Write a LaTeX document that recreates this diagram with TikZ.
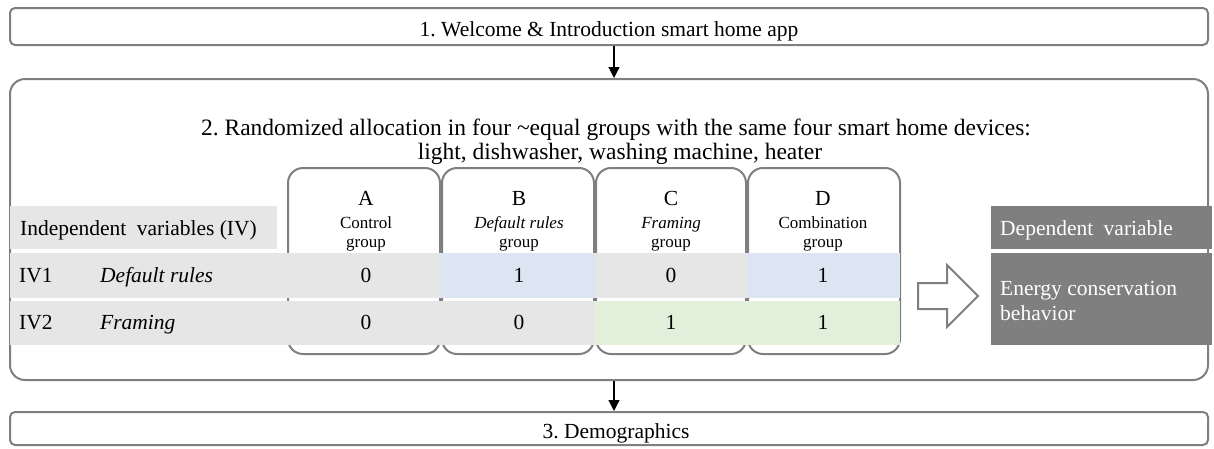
\documentclass[tikz,border=0pt]{standalone}
\usepackage{fontspec}
\setmainfont{Liberation Serif}
\usetikzlibrary{arrows.meta}
\definecolor{edge}{HTML}{7F7F7F}
\definecolor{cellgray}{HTML}{E6E6E6}
\definecolor{cellblue}{HTML}{DCE6F2}
\definecolor{cellgreen}{HTML}{E2EFDA}
\definecolor{darkbox}{HTML}{7F7F7F}
\newcommand{\mainsize}{\fontsize{21.5}{24}\selectfont}
\newcommand{\titlesize}{\fontsize{23.5}{26}\selectfont}
\newcommand{\smallsize}{\fontsize{17}{19}\selectfont}
\frenchspacing

\begin{document}
\begin{tikzpicture}[x=1pt,y=-1pt,
  stagebox/.style={draw=edge, line width=2pt, rounded corners=5pt,
    inner sep=0pt, minimum width=1198pt},
  groupbox/.style={draw=edge, line width=2pt, rounded corners=15pt,
    inner sep=0pt, minimum height=186pt},
  txt/.style={inner sep=0pt, font=\mainsize},
  smalltxt/.style={inner sep=0pt, font=\smallsize},
  flow/.style={line width=1.2pt, -{Triangle[width=11pt,length=11pt]}},
]
\useasboundingbox (0,0) rectangle (1214,448);

% stages of the study
\node[stagebox, minimum height=37pt] (s1) at (609,26.5) {};
\node[stagebox, minimum height=301pt, rounded corners=15pt] (s2) at (609,229.5) {};
\node[stagebox, minimum height=33pt] (s3) at (609,428.5) {};

\node[txt, anchor=base] (t1) at (609,36) {1. Welcome \& Introduction smart home app};
\node[txt, font=\titlesize, anchor=base] (t2a) at (616,135) {2. Randomized allocation in four \textasciitilde equal groups with the same four smart home devices:};
\node[txt, font=\titlesize, anchor=base] (t2b) at (620,159) {light, dishwasher, washing machine, heater};
\node[txt, anchor=base] (t3) at (616,438) {3. Demographics};

\coordinate (ax) at (614,0);
\draw[flow] (s1.south -| ax) -- (s2.north -| ax);
\draw[flow] (s2.south -| ax) -- (s3.north -| ax);

% experimental groups
\node[groupbox, minimum width=152pt] (gA) at (364,261) {};
\node[groupbox, minimum width=152pt] (gB) at (518,261) {};
\node[groupbox, minimum width=150pt] (gC) at (671,261) {};
\node[groupbox, minimum width=152pt] (gD) at (824,261) {};

\foreach \g/\x/\l/\a/\b in {A/366/A/Control/group, B/519/B/\textit{Default rules}/group,
    C/671/C/\textit{Framing}/group, D/823/D/Combination/group}{
  \node[txt, anchor=base] (l\g) at (\x,205) {\l};
  \node[smalltxt, anchor=base] (m\g) at (\x,228) {\a};
  \node[smalltxt, anchor=base] (n\g) at (\x,247) {\b};
}

% table of independent variables
\fill[cellgray] (10,206) rectangle (277,249);
\fill[cellgray] (10,253) rectangle (441,297.5);
\fill[cellblue] (441,253) rectangle (595,297.5);
\fill[cellgray] (595,253) rectangle (747,297.5);
\fill[cellblue] (747,253) rectangle (900,297.5);
\fill[cellgray] (10,300.5) rectangle (595,345);
\fill[cellgreen] (595,300.5) rectangle (900,345);

\node[txt, anchor=base west] (ivhead) at (20,235) {Independent\hspace{5pt} variables (IV)};
\node[txt, anchor=base west] (iv1) at (19,282) {IV1};
\node[txt, anchor=base west] (iv1n) at (100,282) {\textit{Default rules}};
\node[txt, anchor=base west] (iv2) at (19,329) {IV2};
\node[txt, anchor=base west] (iv2n) at (100,329) {\textit{Framing}};

\foreach \x/\v/\w [count=\i] in {366/0/0, 519/1/0, 671/0/1, 823/1/1}{
  \node[txt, anchor=base] (r1c\i) at (\x,282) {\v};
  \node[txt, anchor=base] (r2c\i) at (\x,329) {\w};
}

% effect on the dependent variable
\draw[draw=edge, line width=2pt, fill=white, line join=miter]
  (918,283) -- (947,283) -- (947,265) -- (978,296) -- (947,327)
  -- (947,309) -- (918,309) -- cycle;

\fill[darkbox] (991,206) rectangle (1212,249);
\fill[darkbox] (991,253) rectangle (1212,345);
\node[txt, anchor=base west, text=white] (dv) at (1000,235) {Dependent\hspace{5pt} variable};
\node[txt, anchor=base west, text=white] (dv1) at (1000,295) {Energy conservation};
\node[txt, anchor=base west, text=white] (dv2) at (1000,320) {behavior};
\end{tikzpicture}
\end{document}
